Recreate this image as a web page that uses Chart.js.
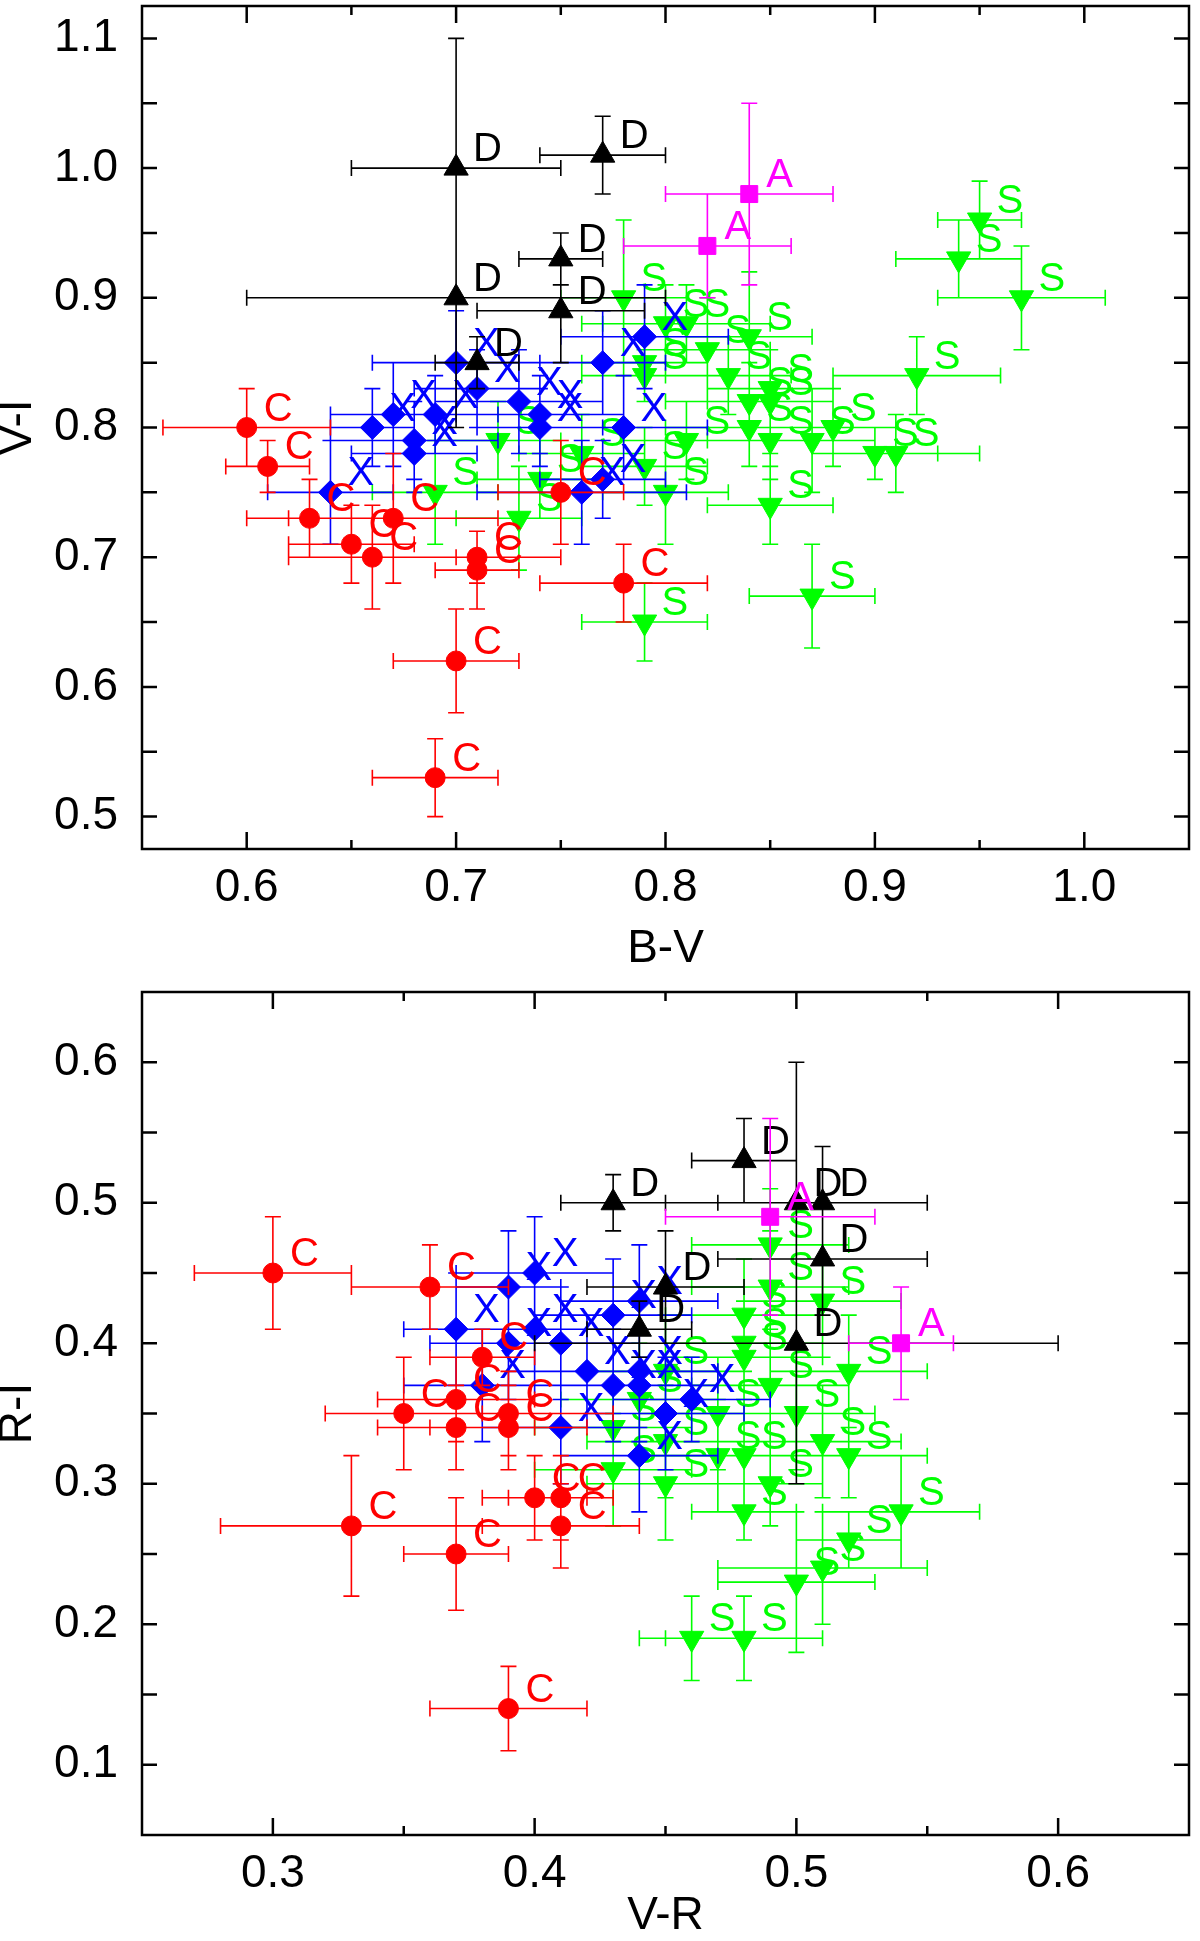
<!DOCTYPE html>
<html>
<head>
<meta charset="utf-8">
<title>Colour-colour diagrams</title>
<script src="https://cdn.jsdelivr.net/npm/chart.js@4.4.1/dist/chart.umd.min.js"></script>
<style>
  body { margin: 0; background: #fff; }
  #wrap { position: relative; width: 1200px; height: 1941px; }
  canvas { position: absolute; left: 0; }
  #topChart { top: 0; }
  #bottomChart { top: 960px; }
</style>
</head>
<body>
<div id="wrap">
  <canvas id="topChart" width="1200" height="970"></canvas>
  <canvas id="bottomChart" width="1200" height="981"></canvas>
</div>
<script>
Chart.defaults.font.family = '"Liberation Sans", Arial, sans-serif';
Chart.defaults.color = '#000';

// every row: [x, y, x error, y error]
// top panel: B-V against V-I
const bvviC = [
  [0.60, 0.80, 0.04, 0.03], [0.61, 0.77, 0.02, 0.02], [0.63, 0.73, 0.03, 0.03],
  [0.65, 0.71, 0.03, 0.03], [0.66, 0.70, 0.04, 0.04], [0.67, 0.73, 0.05, 0.05],
  [0.71, 0.70, 0.04, 0.02], [0.71, 0.69, 0.02, 0.03], [0.75, 0.75, 0.03, 0.04],
  [0.78, 0.68, 0.04, 0.03], [0.70, 0.62, 0.03, 0.04], [0.69, 0.53, 0.03, 0.03]
];
const bvviX = [
  [0.64, 0.75, 0.03, 0.04], [0.66, 0.80, 0.02, 0.03], [0.67, 0.81, 0.03, 0.04],
  [0.68, 0.79, 0.04, 0.03], [0.68, 0.78, 0.03, 0.03], [0.69, 0.81, 0.03, 0.03],
  [0.70, 0.85, 0.04, 0.04], [0.71, 0.83, 0.03, 0.03], [0.73, 0.82, 0.04, 0.04],
  [0.74, 0.81, 0.04, 0.03], [0.74, 0.80, 0.03, 0.03], [0.76, 0.75, 0.05, 0.04],
  [0.77, 0.76, 0.03, 0.03], [0.77, 0.85, 0.03, 0.04], [0.78, 0.80, 0.04, 0.04],
  [0.79, 0.87, 0.04, 0.04]
];
const bvviD = [
  [0.70, 1.00, 0.05, 0.10], [0.77, 1.01, 0.03, 0.03], [0.75, 0.93, 0.02, 0.02],
  [0.75, 0.89, 0.04, 0.04], [0.70, 0.90, 0.10, 0.10], [0.71, 0.85, 0.02, 0.02]
];
const bvviA = [
  [0.84, 0.98, 0.04, 0.07], [0.82, 0.94, 0.04, 0.04]
];
const bvviS = [
  [0.78, 0.90, 0.03, 0.06], [0.80, 0.88, 0.04, 0.03], [0.81, 0.88, 0.04, 0.03],
  [0.79, 0.85, 0.03, 0.03], [0.79, 0.84, 0.03, 0.02], [0.82, 0.86, 0.03, 0.04],
  [0.84, 0.87, 0.03, 0.05], [0.83, 0.84, 0.03, 0.03], [0.84, 0.82, 0.04, 0.03],
  [0.85, 0.83, 0.03, 0.03], [0.85, 0.82, 0.03, 0.04], [0.84, 0.80, 0.04, 0.03],
  [0.85, 0.79, 0.03, 0.03], [0.87, 0.79, 0.03, 0.04], [0.88, 0.80, 0.03, 0.03],
  [0.81, 0.79, 0.03, 0.03], [0.79, 0.77, 0.03, 0.03], [0.80, 0.75, 0.03, 0.04],
  [0.85, 0.74, 0.03, 0.03], [0.76, 0.78, 0.03, 0.03], [0.74, 0.76, 0.03, 0.03],
  [0.73, 0.73, 0.03, 0.04], [0.72, 0.79, 0.03, 0.03], [0.69, 0.75, 0.03, 0.04],
  [0.90, 0.78, 0.03, 0.02], [0.91, 0.78, 0.04, 0.03], [0.92, 0.84, 0.04, 0.03],
  [0.87, 0.67, 0.03, 0.04], [0.79, 0.65, 0.03, 0.03], [0.95, 0.96, 0.02, 0.03],
  [0.94, 0.93, 0.03, 0.03], [0.97, 0.90, 0.04, 0.04]
];

// bottom panel: V-R against R-I
const vrriC = [
  [0.30, 0.45, 0.03, 0.04], [0.36, 0.44, 0.03, 0.03], [0.38, 0.39, 0.02, 0.02],
  [0.37, 0.36, 0.03, 0.03], [0.35, 0.35, 0.03, 0.04], [0.37, 0.34, 0.03, 0.03],
  [0.39, 0.35, 0.04, 0.03], [0.39, 0.34, 0.03, 0.03], [0.40, 0.29, 0.02, 0.03],
  [0.41, 0.29, 0.02, 0.03], [0.41, 0.27, 0.03, 0.03], [0.33, 0.27, 0.05, 0.05],
  [0.37, 0.25, 0.02, 0.04], [0.39, 0.14, 0.03, 0.03]
];
const vrriX = [
  [0.37, 0.41, 0.02, 0.04], [0.38, 0.37, 0.03, 0.04], [0.39, 0.44, 0.02, 0.04],
  [0.39, 0.40, 0.03, 0.04], [0.40, 0.45, 0.03, 0.04], [0.40, 0.41, 0.03, 0.04],
  [0.41, 0.40, 0.03, 0.04], [0.41, 0.34, 0.03, 0.04], [0.42, 0.38, 0.03, 0.04],
  [0.43, 0.42, 0.03, 0.04], [0.43, 0.37, 0.03, 0.04], [0.44, 0.43, 0.03, 0.04],
  [0.44, 0.38, 0.03, 0.04], [0.44, 0.37, 0.03, 0.04], [0.44, 0.32, 0.03, 0.04],
  [0.45, 0.35, 0.03, 0.04], [0.46, 0.36, 0.03, 0.03]
];
const vrriD = [
  [0.43, 0.50, 0.02, 0.02], [0.48, 0.53, 0.02, 0.03], [0.50, 0.50, 0.05, 0.10],
  [0.51, 0.50, 0.04, 0.04], [0.51, 0.46, 0.04, 0.04], [0.45, 0.44, 0.03, 0.04],
  [0.44, 0.41, 0.02, 0.02], [0.50, 0.40, 0.10, 0.10]
];
const vrriA = [
  [0.49, 0.49, 0.04, 0.07], [0.54, 0.40, 0.02, 0.04]
];
const vrriS = [
  [0.49, 0.47, 0.03, 0.04], [0.49, 0.44, 0.03, 0.04], [0.48, 0.42, 0.03, 0.04],
  [0.51, 0.43, 0.03, 0.04], [0.48, 0.40, 0.03, 0.03], [0.48, 0.39, 0.03, 0.03],
  [0.49, 0.37, 0.03, 0.04], [0.50, 0.35, 0.03, 0.04], [0.52, 0.38, 0.03, 0.04],
  [0.47, 0.35, 0.03, 0.04], [0.51, 0.33, 0.03, 0.04], [0.52, 0.32, 0.03, 0.03],
  [0.47, 0.32, 0.03, 0.04], [0.48, 0.32, 0.03, 0.04], [0.45, 0.30, 0.03, 0.04],
  [0.49, 0.30, 0.02, 0.03], [0.48, 0.28, 0.02, 0.02], [0.54, 0.28, 0.03, 0.04],
  [0.52, 0.26, 0.02, 0.02], [0.51, 0.24, 0.04, 0.04], [0.50, 0.23, 0.03, 0.05],
  [0.46, 0.19, 0.02, 0.03], [0.48, 0.19, 0.03, 0.03], [0.43, 0.31, 0.03, 0.04],
  [0.43, 0.34, 0.03, 0.04], [0.44, 0.36, 0.03, 0.04], [0.45, 0.33, 0.03, 0.04],
  [0.45, 0.38, 0.03, 0.04]
];

// axis ticks
const bvTicks = [0.6, 0.7, 0.8, 0.9, 1.0];
const bvMinor = [0.65, 0.75, 0.85, 0.95];
const viTicks = [0.5, 0.6, 0.7, 0.8, 0.9, 1.0, 1.1];
const viMinor = [0.55, 0.65, 0.75, 0.85, 0.95, 1.05];
const vrTicks = [0.3, 0.4, 0.5, 0.6];
const vrMinor = [0.35, 0.45, 0.55];
const riTicks = [0.1, 0.2, 0.3, 0.4, 0.5, 0.6];
const riMinor = [0.15, 0.25, 0.35, 0.45, 0.55];

// look of each group (lower order = drawn on top)
const groupStyle = {
  A: { color: '#ff00ff', style: 'rect', radius: 12, rotation: 0, order: 0 },
  D: { color: '#000000', style: 'triangle', radius: 14, rotation: 0, order: 1 },
  C: { color: '#ff0000', style: 'circle', radius: 10, rotation: 0, order: 2 },
  X: { color: '#0000ff', style: 'rectRot', radius: 12, rotation: 0, order: 3 },
  S: { color: '#00ff00', style: 'triangle', radius: 14, rotation: 180, order: 4 }
};

function makeDataset(letter, rows) {
  const g = groupStyle[letter];
  return {
    label: letter,
    data: rows.map(([x, y, ex, ey]) => ({ x, y, ex, ey })),
    pointStyle: g.style,
    pointRadius: g.radius,
    pointRotation: g.rotation,
    backgroundColor: g.color,
    borderColor: g.color,
    borderWidth: 1,
    order: g.order
  };
}

// error bars under each group's markers, letters on top of them
const errorBars = {
  id: 'errorBars',
  beforeDatasetDraw(chart, args) {
    const ds = chart.data.datasets[args.index];
    const { ctx, chartArea: a, scales: { x, y } } = chart;
    const cap = 8;
    ctx.save();
    ctx.beginPath();
    ctx.rect(a.left, a.top, a.right - a.left, a.bottom - a.top);
    ctx.clip();
    ctx.strokeStyle = ds.borderColor;
    ctx.lineWidth = 1.6;
    ctx.beginPath();
    ds.data.forEach(p => {
      const px = x.getPixelForValue(p.x);
      const py = y.getPixelForValue(p.y);
      const x0 = x.getPixelForValue(p.x - p.ex);
      const x1 = x.getPixelForValue(p.x + p.ex);
      const y0 = y.getPixelForValue(p.y - p.ey);
      const y1 = y.getPixelForValue(p.y + p.ey);
      ctx.moveTo(x0, py); ctx.lineTo(x1, py);
      ctx.moveTo(x0, py - cap); ctx.lineTo(x0, py + cap);
      ctx.moveTo(x1, py - cap); ctx.lineTo(x1, py + cap);
      ctx.moveTo(px, y0); ctx.lineTo(px, y1);
      ctx.moveTo(px - cap, y0); ctx.lineTo(px + cap, y0);
      ctx.moveTo(px - cap, y1); ctx.lineTo(px + cap, y1);
    });
    ctx.stroke();
    ctx.restore();
  },
  afterDatasetDraw(chart, args) {
    const ds = chart.data.datasets[args.index];
    const { ctx, scales: { x, y } } = chart;
    ctx.save();
    ctx.fillStyle = ds.borderColor;
    ctx.font = '40px "Liberation Sans", Arial, sans-serif';
    ctx.textAlign = 'left';
    ctx.textBaseline = 'middle';
    ds.data.forEach(p => {
      ctx.fillText(ds.label, x.getPixelForValue(p.x) + 17, y.getPixelForValue(p.y) - 18);
    });
    ctx.restore();
  }
};

// closed box with inward ticks on all four sides
const frame = {
  id: 'frame',
  afterDatasetsDraw(chart, args, opts) {
    const { ctx, chartArea: a, scales: { x, y } } = chart;
    ctx.save();
    ctx.strokeStyle = '#000';
    ctx.lineWidth = 2.5;
    ctx.beginPath();
    const xTick = (vals, len) => vals.forEach(v => {
      const px = x.getPixelForValue(v);
      ctx.moveTo(px, a.bottom); ctx.lineTo(px, a.bottom - len);
      ctx.moveTo(px, a.top); ctx.lineTo(px, a.top + len);
    });
    const yTick = (vals, len) => vals.forEach(v => {
      const py = y.getPixelForValue(v);
      ctx.moveTo(a.left, py); ctx.lineTo(a.left + len, py);
      ctx.moveTo(a.right, py); ctx.lineTo(a.right - len, py);
    });
    xTick(opts.xMajor, 17);
    xTick(opts.xMinor, 9);
    yTick(opts.yMajor, 15);
    yTick(opts.yMinor, 15);
    ctx.stroke();
    ctx.strokeRect(a.left, a.top, a.right - a.left, a.bottom - a.top);
    ctx.restore();
  }
};

function makeChart(id, cfg) {
  return new Chart(document.getElementById(id), {
    type: 'scatter',
    data: { datasets: cfg.datasets },
    plugins: [errorBars, frame],
    options: {
      responsive: false,
      animation: false,
      devicePixelRatio: 1,
      layout: { autoPadding: false, padding: { top: cfg.padTop, right: 11, left: 0, bottom: 0 } },
      plugins: {
        legend: { display: false },
        tooltip: { enabled: false },
        frame: { xMajor: cfg.xTicks, xMinor: cfg.xMinor, yMajor: cfg.yTicks, yMinor: cfg.yMinor }
      },
      scales: {
        x: {
          type: 'linear',
          min: cfg.xRange[0],
          max: cfg.xRange[1],
          grid: { display: false, drawTicks: false },
          border: { display: false },
          afterBuildTicks: s => { s.ticks = cfg.xTicks.map(v => ({ value: v })); },
          afterFit: s => { s.height = cfg.xAxisHeight; s.paddingLeft = 0; s.paddingRight = 0; },
          ticks: { padding: 12, font: { size: 46 }, maxRotation: 0, autoSkip: false, callback: v => v.toFixed(1) },
          title: { display: true, text: cfg.xTitle, font: { size: 46, lineHeight: 0.8 }, padding: { top: 0, bottom: cfg.titlePad } }
        },
        y: {
          type: 'linear',
          min: cfg.yRange[0],
          max: cfg.yRange[1],
          grid: { display: false, drawTicks: false },
          border: { display: false },
          afterBuildTicks: s => { s.ticks = cfg.yTicks.map(v => ({ value: v })); },
          afterFit: s => { s.width = 142; s.paddingTop = 0; s.paddingBottom = 0; },
          ticks: { padding: 24, font: { size: 46 }, autoSkip: false, callback: v => v.toFixed(1) },
          title: { display: true, text: cfg.yTitle, font: { size: 46, lineHeight: 0.8 }, padding: 0 }
        }
      }
    }
  });
}

makeChart('topChart', {
  datasets: [
    makeDataset('A', bvviA), makeDataset('D', bvviD), makeDataset('C', bvviC),
    makeDataset('X', bvviX), makeDataset('S', bvviS)
  ],
  xRange: [0.55, 1.05], yRange: [0.475, 1.125],
  xTicks: bvTicks, xMinor: bvMinor, yTicks: viTicks, yMinor: viMinor,
  xTitle: 'B-V', yTitle: 'V-I',
  padTop: 6, xAxisHeight: 121, titlePad: 2
});

makeChart('bottomChart', {
  datasets: [
    makeDataset('A', vrriA), makeDataset('D', vrriD), makeDataset('C', vrriC),
    makeDataset('X', vrriX), makeDataset('S', vrriS)
  ],
  xRange: [0.25, 0.65], yRange: [0.05, 0.65],
  xTicks: vrTicks, xMinor: vrMinor, yTicks: riTicks, yMinor: riMinor,
  xTitle: 'V-R', yTitle: 'R-I',
  padTop: 32, xAxisHeight: 106, titlePad: 6
});
</script>
</body>
</html>
